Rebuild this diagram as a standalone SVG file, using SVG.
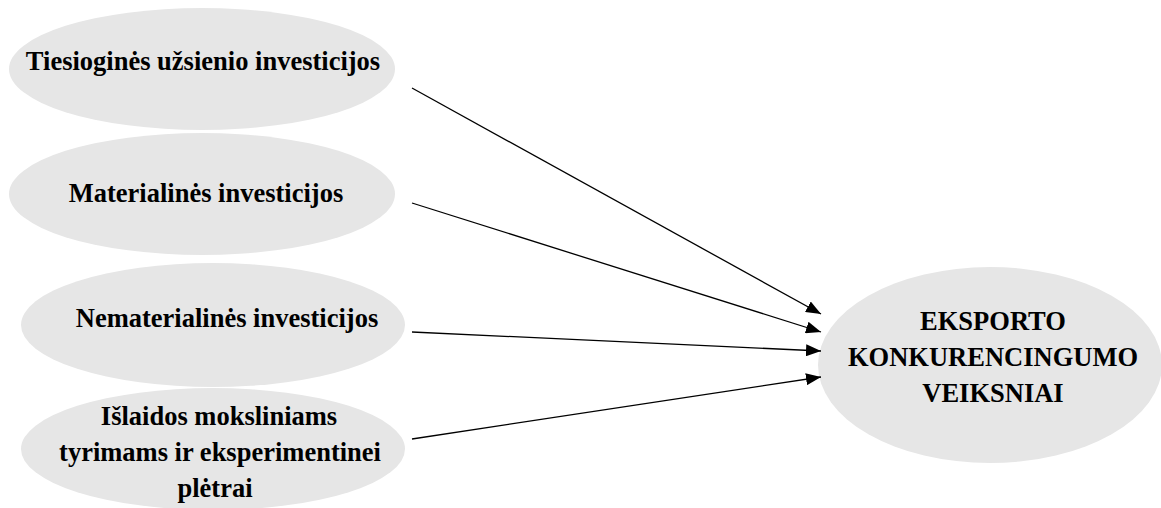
<svg xmlns="http://www.w3.org/2000/svg" width="1161" height="508" viewBox="0 0 1161 508">
<style>
.n{fill:#e6e6e6;stroke:none}
.t{font-family:'Liberation Serif','DejaVu Serif',serif;font-weight:700;font-size:26.5px;fill:#000;text-anchor:middle}
.c{stroke:#000;stroke-width:1.3;fill:none;marker-end:url(#ah)}
</style>
<defs>
<marker id="ah" viewBox="0 0 15 12" refX="15" refY="6" markerWidth="15" markerHeight="12" markerUnits="userSpaceOnUse" orient="auto">
<path d="M0,0 L15,6 L0,12 Z" fill="#000"/>
</marker>
</defs>
<rect width="1161" height="508" fill="#fff"/>
<g id="n1"><ellipse class="n" cx="202" cy="69" rx="193" ry="61"/><text class="t" font-family="Liberation Serif, serif" x="203" y="70">Tiesioginės užsienio investicijos</text></g>
<g id="n2"><ellipse class="n" cx="202" cy="194" rx="193" ry="61"/><text class="t" x="206" y="202">Materialinės investicijos</text></g>
<g id="n3"><ellipse class="n" cx="213" cy="325" rx="192" ry="62"/><text class="t" x="227" y="327">Nematerialinės investicijos</text></g>
<g id="n4"><ellipse class="n" cx="213" cy="449" rx="192" ry="61"/><text class="t" x="219" y="425">Išlaidos moksliniams</text><text class="t" x="220" y="461">tyrimams ir eksperimentinei</text><text class="t" x="215" y="497">plėtrai</text></g>
<g id="n5"><ellipse class="n" cx="990" cy="365" rx="172" ry="98"/><text class="t" x="993" y="330">EKSPORTO</text><text class="t" x="993" y="366">KONKURENCINGUMO</text><text class="t" x="993" y="402">VEIKSNIAI</text></g>
<g id="connectors">
<line class="c" x1="412" y1="88" x2="821" y2="314"/>
<line class="c" x1="412" y1="203" x2="821" y2="332"/>
<line class="c" x1="412" y1="332" x2="821" y2="351"/>
<line class="c" x1="412" y1="439" x2="821" y2="377"/>
</g>
</svg>
